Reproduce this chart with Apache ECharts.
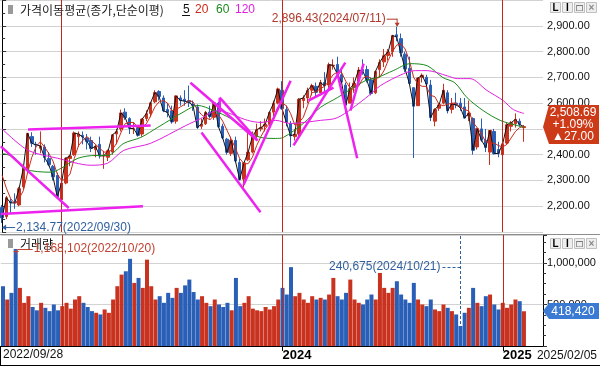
<!DOCTYPE html>
<html>
<head>
<meta charset="utf-8">
<script src="https://cdn.jsdelivr.net/npm/echarts@6/dist/echarts.min.js"></script>
<style>
html, body { margin: 0; padding: 0; background: #fff; }
#main { width: 600px; height: 366px; }
</style>
</head>
<body>
<div id="main"></div>
<script>
// 주간 시세 (2022/09/28 ~ 2025/02/05), 주 단위 인덱스 0..123
const wkOpen = [2195, 2160, 2220, 2215, 2205, 2275, 2345, 2470, 2440, 2425,
  2430, 2385, 2355, 2320, 2225, 2290, 2385, 2400, 2470, 2475,
  2465, 2455, 2420, 2440, 2395, 2390, 2410, 2480, 2500, 2565,
  2540, 2500, 2505, 2480, 2540, 2560, 2605, 2645, 2620, 2575,
  2570, 2530, 2620, 2615, 2610, 2595, 2585, 2510, 2520, 2565,
  2545, 2600, 2510, 2460, 2405, 2455, 2370, 2305, 2380, 2410,
  2470, 2500, 2510, 2520, 2565, 2600, 2650, 2575, 2520, 2470,
  2480, 2610, 2620, 2650, 2665, 2640, 2680, 2670, 2745, 2750,
  2710, 2670, 2600, 2660, 2685, 2730, 2730, 2690, 2640, 2730,
  2760, 2785, 2800, 2865, 2850, 2790, 2735, 2660, 2590, 2700,
  2700, 2670, 2530, 2580, 2600, 2640, 2575, 2600, 2600, 2585,
  2550, 2540, 2430, 2500, 2455, 2410, 2490, 2420, 2400, 2445,
  2510, 2520, 2530, 2505];
const wkClose = [2155, 2233, 2213, 2213, 2268, 2348, 2483, 2444, 2438, 2434,
  2389, 2361, 2314, 2236, 2290, 2386, 2395, 2484, 2480, 2469,
  2451, 2424, 2432, 2395, 2396, 2415, 2477, 2490, 2562, 2544,
  2502, 2501, 2475, 2538, 2559, 2601, 2641, 2626, 2570, 2564,
  2527, 2628, 2610, 2608, 2603, 2591, 2505, 2519, 2564, 2548,
  2601, 2508, 2465, 2409, 2456, 2375, 2303, 2368, 2410, 2470,
  2497, 2505, 2518, 2564, 2600, 2655, 2578, 2525, 2473, 2479,
  2615, 2620, 2649, 2668, 2642, 2680, 2667, 2749, 2747, 2714,
  2682, 2592, 2656, 2677, 2728, 2725, 2688, 2637, 2723, 2758,
  2784, 2798, 2862, 2857, 2795, 2732, 2676, 2588, 2697, 2708,
  2674, 2544, 2575, 2593, 2650, 2570, 2597, 2593, 2583, 2542,
  2561, 2417, 2501, 2456, 2428, 2494, 2404, 2405, 2442, 2516,
  2524, 2537, 2517, 2508.69];
const wkLow = [2134.77, 2150, 2170, 2190, 2200, 2265, 2330, 2430, 2400, 2405,
  2370, 2355, 2300, 2230, 2180, 2285, 2355, 2395, 2430, 2440,
  2420, 2410, 2390, 2385, 2345, 2375, 2400, 2440, 2490, 2535,
  2480, 2480, 2470, 2470, 2530, 2545, 2600, 2610, 2565, 2545,
  2520, 2520, 2590, 2590, 2585, 2570, 2500, 2500, 2515, 2540,
  2535, 2505, 2460, 2400, 2395, 2370, 2300, 2273, 2375, 2405,
  2460, 2490, 2490, 2510, 2550, 2595, 2575, 2510, 2429, 2455,
  2470, 2580, 2600, 2630, 2625, 2630, 2640, 2650, 2730, 2700,
  2680, 2560, 2600, 2640, 2680, 2710, 2680, 2630, 2635, 2700,
  2740, 2765, 2780, 2840, 2780, 2720, 2675, 2387, 2590, 2680,
  2660, 2530, 2510, 2570, 2595, 2560, 2560, 2580, 2570, 2540,
  2530, 2400, 2420, 2450, 2410, 2360, 2400, 2390, 2380, 2440,
  2490, 2505, 2510, 2450];
const wkHigh = [2205, 2240, 2230, 2250, 2275, 2350, 2483, 2487, 2450, 2490,
  2440, 2410, 2360, 2330, 2295, 2390, 2400, 2490, 2490, 2490,
  2480, 2470, 2440, 2470, 2415, 2420, 2480, 2500, 2575, 2580,
  2545, 2525, 2515, 2540, 2572, 2605, 2650, 2650, 2630, 2600,
  2590, 2630, 2630, 2650, 2668, 2610, 2595, 2540, 2570, 2590,
  2605, 2605, 2520, 2465, 2470, 2470, 2385, 2370, 2503, 2490,
  2520, 2530, 2540, 2568, 2610, 2660, 2685, 2590, 2530, 2500,
  2620, 2630, 2660, 2675, 2680, 2690, 2720, 2757, 2770, 2780,
  2730, 2680, 2680, 2700, 2740, 2770, 2745, 2700, 2725, 2770,
  2810, 2810, 2865, 2896.43, 2870, 2800, 2780, 2600, 2700, 2715,
  2710, 2690, 2580, 2600, 2675, 2650, 2620, 2640, 2620, 2620,
  2610, 2545, 2505, 2540, 2500, 2495, 2500, 2450, 2445, 2525,
  2530, 2560, 2540, 2515];
const wkVolume = [720000, 560000, 640000, 1168102, 700000, 520000, 600000, 470000, 430000, 520000,
  460000, 420000, 500000, 430000, 480000, 520000, 450000, 560000, 600000, 520000,
  470000, 420000, 400000, 380000, 440000, 400000, 560000, 720000, 860000, 900000,
  1050000, 760000, 820000, 700000, 1040000, 720000, 560000, 600000, 520000, 640000,
  580000, 700000, 640000, 730000, 800000, 650000, 560000, 600000, 520000, 480000,
  560000, 500000, 470000, 520000, 430000, 820000, 480000, 520000, 600000, 450000,
  430000, 420000, 470000, 440000, 480000, 560000, 700000, 620000, 950000, 600000,
  640000, 560000, 520000, 600000, 560000, 580000, 560000, 620000, 820000, 600000,
  560000, 640000, 800000, 560000, 520000, 500000, 560000, 620000, 560000, 880000,
  700000, 640000, 700000, 780000, 620000, 560000, 520000, 760000, 560000, 500000,
  480000, 560000, 440000, 420000, 500000, 460000, 420000, 380000, 240675, 400000,
  460000, 700000, 520000, 480000, 600000, 620000, 500000, 440000, 520000, 460000,
  500000, 560000, 540000, 418420];

// 이동평균
const ma20 = [2320, 2270, 2230, 2210, 2230, 2260, 2330, 2390, 2430, 2450,
  2430, 2405, 2375, 2325, 2300, 2305, 2325, 2385, 2435, 2455,
  2470, 2455, 2440, 2425, 2410, 2410, 2420, 2445, 2485, 2520,
  2525, 2525, 2505, 2505, 2520, 2550, 2585, 2605, 2610, 2600,
  2570, 2575, 2585, 2595, 2610, 2605, 2575, 2555, 2545, 2535,
  2555, 2555, 2530, 2495, 2460, 2425, 2385, 2365, 2365, 2390,
  2435, 2470, 2500, 2520, 2545, 2585, 2600, 2590, 2560, 2515,
  2525, 2545, 2590, 2640, 2645, 2655, 2665, 2685, 2710, 2720,
  2720, 2685, 2660, 2650, 2665, 2695, 2705, 2695, 2695, 2700,
  2725, 2765, 2800, 2825, 2830, 2810, 2765, 2700, 2675, 2665,
  2665, 2630, 2625, 2595, 2590, 2595, 2600, 2600, 2585, 2575,
  2570, 2525, 2505, 2480, 2450, 2445, 2445, 2435, 2430, 2440,
  2465, 2490, 2505, 2510];
const ma60 = [[0, 2405], [2.8, 2390], [5.2, 2345], [11.5, 2332], [13.9, 2347], [17.9, 2386],
  [22.1, 2397], [24.9, 2397], [28.7, 2444], [32.7, 2467], [36.7, 2506], [43.3, 2571],
  [46.1, 2591], [49.9, 2571], [53.9, 2540], [57.9, 2494], [60.9, 2467], [64.5, 2463],
  [66.3, 2467], [71, 2521], [75, 2583], [79, 2621], [85.6, 2687], [88.4, 2699],
  [92.2, 2726], [96.2, 2753], [100.2, 2745], [103.9, 2699], [106.7, 2679], [109.6, 2621],
  [113.4, 2571], [117.4, 2533], [121.4, 2513], [123, 2506]];
const ma120 = [[0, 2500], [6.1, 2417], [13.1, 2386], [20.9, 2359], [24.9, 2367], [28.7, 2417],
  [35, 2444], [43.3, 2513], [46.8, 2540], [50.8, 2571], [57.9, 2533], [61, 2525],
  [64.5, 2533], [68, 2521], [75, 2533], [79.1, 2544], [85.6, 2618], [89.2, 2668],
  [94.6, 2714], [97.4, 2726], [100.2, 2726], [104.9, 2706], [107.3, 2695], [110.3, 2695],
  [114.3, 2649], [118.1, 2610], [120.5, 2575], [123, 2560]];

// 사용자 추세선 (주 인덱스, 가격)
const trendLines = [
  [[-0.3, 2432], [15.7, 2193]],
  [[-0.3, 2170], [33.2, 2200]],
  [[6.1, 2498], [35.0, 2513]],
  [[44.4, 2679], [60.2, 2455]],
  [[47.0, 2486], [60.9, 2177]],
  [[51.3, 2621], [60.2, 2455]],
  [[51.3, 2621], [51.3, 2563]],
  [[56.9, 2282], [68.0, 2687]],
  [[68.7, 2436], [80.9, 2757]],
  [[72.2, 2610], [78.1, 2660]],
  [[79.0, 2718], [83.7, 2386]],
  [[82.1, 2571], [85.2, 2753]]
];

const yearWeeks = [14, 66, 118];
const axisDates = { 0: '2022/09/28', 66: '{b|2024}', 118: '{b|2025}' };
const lastDate = '2025/02/05';
const N_SLOTS = 128;

const RED = '#c8321e';
const BLUE = '#2a5fb8';
const FONT = '"Liberation Sans", Arial, sans-serif';
const KFONT = '"Noto Sans CJK KR", sans-serif';

const slots = [];
for (let i = 0; i < N_SLOTS; i++) slots.push(String(i));

const candleData = wkOpen.map((o, i) => [o, wkClose[i], wkLow[i], wkHigh[i]]);
const volData = wkVolume.map((v, i) => ({
  value: v,
  itemStyle: { color: wkClose[i] >= wkOpen[i] ? RED : BLUE }
}));

const yearLine = {
  symbol: 'none',
  silent: true,
  label: { show: false },
  lineStyle: { color: '#c0281c', width: 1, type: 'solid' },
  data: yearWeeks.map(w => ({ xAxis: w }))
};

const fmtNum = (v, d) => v.toLocaleString('en-US', { minimumFractionDigits: d, maximumFractionDigits: d });

const chart = echarts.init(document.getElementById('main'));

const series = [
  {
    type: 'candlestick',
    xAxisIndex: 0,
    yAxisIndex: 0,
    data: candleData,
    barWidth: 3,
    itemStyle: { color: RED, color0: BLUE, borderColor: RED, borderColor0: BLUE, borderWidth: 1 },
    markLine: yearLine
  },
  { type: 'line', name: '5', xAxisIndex: 0, yAxisIndex: 0, data: wkClose, symbol: 'none',
    lineStyle: { color: '#111', width: 1 } },
  { type: 'line', name: '20', xAxisIndex: 0, yAxisIndex: 0, data: ma20, symbol: 'none',
    lineStyle: { color: '#cc2a1a', width: 1 } },
  { type: 'line', name: '60', xAxisIndex: 2, yAxisIndex: 0, data: ma60, symbol: 'none', smooth: 0.3,
    lineStyle: { color: '#1c8a1c', width: 1 } },
  { type: 'line', name: '120', xAxisIndex: 2, yAxisIndex: 0, data: ma120, symbol: 'none', smooth: 0.3,
    lineStyle: { color: '#e020e0', width: 1 } }
];
trendLines.forEach(seg => {
  series.push({
    type: 'line', xAxisIndex: 2, yAxisIndex: 0, data: seg, symbol: 'none', silent: true, z: 5,
    lineStyle: { color: '#ee22ee', width: 2.5 }
  });
});
series.push({
  type: 'bar',
  xAxisIndex: 1,
  yAxisIndex: 1,
  data: volData,
  barWidth: 4,
  markLine: yearLine
});

chart.setOption({
  animation: false,
  backgroundColor: '#fff',
  grid: [
    { left: -1, right: 57, top: -1, height: 233 },
    { left: -1, right: 57, top: 235, height: 111 }
  ],
  xAxis: [
    { type: 'category', gridIndex: 0, data: slots, boundaryGap: true,
      axisLine: { show: false }, axisTick: { show: false }, axisLabel: { show: false }, splitLine: { show: false } },
    { type: 'category', gridIndex: 1, data: slots, boundaryGap: true,
      axisLine: { lineStyle: { color: '#000', width: 1 } },
      axisTick: { show: true, alignWithLabel: true, length: 5, lineStyle: { color: '#000' },
        interval: i => i === 66 || i === 118 },
      axisLabel: {
        interval: 0, align: 'left', margin: 3, color: '#111', fontSize: 12, fontFamily: FONT,
        formatter: (v, i) => axisDates[i] || '',
        rich: { b: { fontWeight: 'bold', fontSize: 13, fontFamily: FONT, color: '#000' } }
      },
      splitLine: { show: false } },
    { type: 'value', gridIndex: 0, min: -0.5, max: N_SLOTS - 0.5, show: false }
  ],
  yAxis: [
    { type: 'value', gridIndex: 0, position: 'right', min: 2100, max: 3000, interval: 100,
      axisLine: { show: true, lineStyle: { color: '#000' } },
      axisTick: { show: true, length: 4, lineStyle: { color: '#333' } },
      minorTick: { show: true, splitNumber: 2, length: 3, lineStyle: { color: '#333' } },
      splitLine: { lineStyle: { color: '#d2d2d2' } },
      axisLabel: { margin: 4, color: '#111', fontSize: 11, fontFamily: FONT,
        showMinLabel: false, showMaxLabel: false, formatter: v => fmtNum(v, 2) } },
    { type: 'value', gridIndex: 1, position: 'right', min: 0, max: 1337000, interval: 500000,
      axisLine: { show: true, lineStyle: { color: '#000' } },
      axisTick: { show: true, length: 4, lineStyle: { color: '#333' } },
      minorTick: { show: true, splitNumber: 4, length: 3, lineStyle: { color: '#333' } },
      splitLine: { lineStyle: { color: '#d2d2d2' } },
      axisLabel: { margin: 4, color: '#111', fontSize: 11, fontFamily: FONT,
        showMinLabel: false, showMaxLabel: false, formatter: v => fmtNum(v, 0) } }
  ],
  series: series
});

// 그래픽 (범례, 가격표, 주석)
const px = (xi, yi, val) => chart.convertToPixel({ xAxisIndex: xi, yAxisIndex: yi }, val);
const g = [];
const text = (x, y, s, st) => g.push({ type: 'text', x: x, y: y, z: 100,
  style: Object.assign({ text: s, fill: '#222', font: '12px ' + FONT, verticalAlign: 'middle', align: 'left' }, st || {}) });
const line = (x1, y1, x2, y2, st) => g.push({ type: 'line', z: 100, shape: { x1: x1, y1: y1, x2: x2, y2: y2 },
  style: Object.assign({ stroke: '#000', lineWidth: 1 }, st || {}) });

// 패널 구분선, 테두리
line(0, 234.5, 600, 234.5, { stroke: '#8c8c8c' });
line(0, 365.5, 600, 365.5, { stroke: '#000' });
line(0.5, 346, 0.5, 366, { stroke: '#000' });
text(597, 356, lastDate, { align: 'right', fill: '#111' });

// 범례
g.push({ type: 'rect', z: 100, shape: { x: 8, y: 5, width: 5, height: 9 }, style: { fill: '#9a9a9a' } });
text(20, 10, '가격이동평균(종가,단순이평)', { font: '12px ' + KFONT });
text(183, 10, '5', { fill: '#111', font: '12px ' + FONT });
line(182, 15.5, 190, 15.5, { stroke: '#111' });
text(195, 10, '20', { fill: '#cc2a1a', font: '12px ' + FONT });
text(216, 10, '60', { fill: '#1c8a1c', font: '12px ' + FONT });
text(235, 10, '120', { fill: '#e020e0', font: '12px ' + FONT });
g.push({ type: 'rect', z: 100, shape: { x: 8, y: 239, width: 5, height: 9 }, style: { fill: '#9a9a9a' } });
text(20, 244, '거래량', { font: '12px ' + KFONT, fill: '#111' });

// 우측 상단 버튼
[2, 238].forEach(by => {
  ['L', 'I', '□', '×'].forEach((s, i) => {
    const bx = 550 + i * 12;
    g.push({ type: 'rect', z: 100, shape: { x: bx + 0.5, y: by + 0.5, width: 10, height: 10 },
      style: { fill: '#eeeeee', stroke: '#c0c0c0' } });
    text(bx + 5.5, by + 6, s, { align: 'center', fill: i === 3 ? '#888' : '#000', font: 'bold 10px ' + FONT });
  });
});

// 최고가 / 최저가 주석
const hiPt = px(0, 0, [93, 2896.43]);
const hiY = hiPt[1] - 8;
text(hiPt[0] - 11, hiY, '2,896.43(2024/07/11)', { align: 'right', fill: '#b0392b' });
line(hiPt[0] - 10, hiY + 0.5, hiPt[0] + 0.5, hiY + 0.5, { stroke: '#b0392b' });
line(hiPt[0] + 0.5, hiY, hiPt[0] + 0.5, hiPt[1] - 1, { stroke: '#b0392b' });
g.push({ type: 'polygon', z: 100, shape: { points: [[hiPt[0] - 2, hiPt[1] - 4], [hiPt[0] + 3, hiPt[1] - 4], [hiPt[0] + 0.5, hiPt[1]]] },
  style: { fill: '#b0392b' } });

const loPt = px(0, 0, [0, 2134.77]);
const loY = loPt[1] + 4;
text(loPt[0] + 14, loY + 1, '2,134.77(2022/09/30)', { fill: '#2f5f9e' });
line(loPt[0] + 1, loY + 0.5, loPt[0] + 13, loY + 0.5, { stroke: '#2f5f9e' });
g.push({ type: 'polygon', z: 100, shape: { points: [[loPt[0], loY + 0.5], [loPt[0] + 4, loY - 2.5], [loPt[0] + 4, loY + 3.5]] },
  style: { fill: '#2f5f9e' } });

// 거래량 최대 / 최소 주석
const vMax = px(1, 1, [3, 1168102]);
text(vMax[0] + 18, vMax[1], '1,168,102(2022/10/20)', { fill: '#c0402f' });
line(vMax[0] + 2, vMax[1] + 0.5, vMax[0] + 17, vMax[1] + 0.5, { stroke: '#c0402f' });
line(vMax[0] - 2, vMax[1] + 2.5, vMax[0] + 3, vMax[1] + 2.5, { stroke: '#c0402f' });
line(vMax[0] + 0.5, vMax[1], vMax[0] + 0.5, vMax[1] + 5, { stroke: '#c0402f' });

const vMin = px(1, 1, [108, 240675]);
const mx = Math.round(vMin[0]) + 0.5;
line(mx, 236, mx, vMin[1] - 1, { stroke: '#2f5f9e', lineDash: [3, 2] });
line(mx - 18, 267.5, mx, 267.5, { stroke: '#2f5f9e', lineDash: [3, 2] });
text(mx - 20, 267, '240,675(2024/10/21)', { align: 'right', fill: '#2f5f9e' });

// 현재가 태그
const cPt = px(0, 0, [123, wkClose[123]]);
const cy = Math.round(cPt[1]);
g.push({ type: 'polygon', z: 100,
  shape: { points: [[543, cy], [549, cy - 22], [599, cy - 22], [599, cy + 17], [549, cy + 17]] },
  style: { fill: '#cc3a18' } });
text(573, cy - 14, fmtNum(wkClose[123], 2), { align: 'center', fill: '#fff' });
text(573, cy - 2, '+1.09%', { align: 'center', fill: '#fff' });
text(573, cy + 10, '▲27.00', { align: 'center', fill: '#fff' });

// 현재 거래량 태그
const vPt = px(1, 1, [123, wkVolume[123]]);
const vy = Math.round(vPt[1]);
g.push({ type: 'polygon', z: 100,
  shape: { points: [[543, vy], [549, vy - 8], [599, vy - 8], [599, vy + 8], [549, vy + 8]] },
  style: { fill: '#3a7ad2' } });
text(573, vy + 0.5, fmtNum(wkVolume[123], 0), { align: 'center', fill: '#fff' });

chart.setOption({ graphic: g });
</script>
</body>
</html>
